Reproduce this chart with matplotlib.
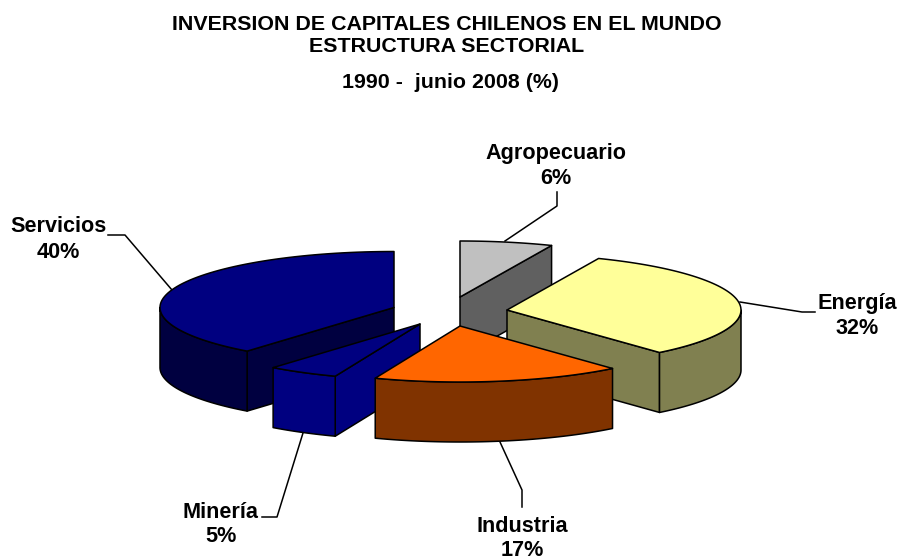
import numpy as np
import matplotlib
matplotlib.use('Agg')
import matplotlib.pyplot as plt
from matplotlib.patches import Polygon

# Sector shares
sectors = ['Agropecuario', 'Energía', 'Industria', 'Minería', 'Servicios']
shares = [6.4, 32.3, 17.2, 4.9, 39.2]
share_labels = ['6%', '32%', '17%', '5%', '40%']

title_lines = ['INVERSION DE CAPITALES CHILENOS EN EL MUNDO', 'ESTRUCTURA SECTORIAL', '1990 -  junio 2008 (%)']

# Slice styling and the exploded position of each slice tip (pixels)
top_colors = ['#C0C0C0', '#FFFF99', '#FF6600', '#000080', '#000080']
side_colors = ['#606060', '#808050', '#803300', '#000080', '#000040']
tip_x = [460, 507, 460, 420, 394]
tip_y = [297, 310, 326, 324, 307.5]
RX = 234
RY = 56
DEPTH = 60

# Label centres and leader lines (pixels)
label_x = [556, 857, 522, 221, 58]
label_y = [154, 303, 526, 512, 227]
leaders = [
    [(505, 241), (557, 206), (557, 192)],
    [(740, 302), (802, 312), (815, 312)],
    [(500, 442), (522, 490), (522, 507)],
    [(303, 433), (277, 517), (262, 517)],
    [(172, 290), (125, 235), (108, 235)],
]

plt.rcParams['font.family'] = ['Liberation Sans', 'DejaVu Sans']

fig = plt.figure(figsize=(8.98, 5.58), dpi=100)
ax = fig.add_axes([0, 0, 1, 1])
ax.set_xlim(0, 898)
ax.set_ylim(558, 0)
ax.axis('off')

# Angles run clockwise from 12 o'clock
edges = np.concatenate([[0], np.cumsum(shares)]) / sum(shares) * 2 * np.pi


def rim(i, a):
    return tip_x[i] + RX * np.sin(a), tip_y[i] - RY * np.cos(a)


def arc(i, a0, a1):
    t = np.linspace(a0, a1, 80)
    return np.column_stack(rim(i, t))


def poly(pts, color, z):
    ax.add_patch(Polygon(pts, closed=True, facecolor=color, edgecolor='black', linewidth=1.1, joinstyle='round', zorder=z))


def outer_wall(i, a0, a1, z):
    upper = arc(i, a0, a1)
    lower = upper[::-1] + [0, DEPTH]
    poly(np.vstack([upper, lower]), side_colors[i], z)


def cut_face(i, a, z):
    x, y = rim(i, a)
    tx, ty = tip_x[i], tip_y[i]
    poly([(tx, ty), (x, y), (x, y + DEPTH), (tx, ty + DEPTH)], side_colors[i], z)


def top(i, z):
    pts = np.vstack([[(tip_x[i], tip_y[i])], arc(i, edges[i], edges[i + 1])])
    poly(pts, top_colors[i], z)


# Back to front: Agropecuario, Servicios, Energia, Mineria, Industria
cut_face(0, edges[1], 1)
top(0, 2)

cut_face(4, edges[4], 3)
outer_wall(4, edges[4], 1.5 * np.pi, 4)
top(4, 5)

cut_face(1, edges[2], 6)
outer_wall(1, np.pi / 2, edges[2], 7)
top(1, 8)

cut_face(3, edges[3], 9)
outer_wall(3, edges[3], edges[4], 10)
top(3, 11)

outer_wall(2, edges[2], edges[3], 12)
top(2, 13)

# Leader lines and labels
for line in leaders:
    xs, ys = zip(*line)
    ax.plot(xs, ys, color='black', linewidth=1.1, zorder=0)

for name, pct, x, y in zip(sectors, share_labels, label_x, label_y):
    ax.text(x, y, name, ha='center', va='center', fontsize=15.6, fontweight='bold')
    ax.text(x, y + 25, pct, ha='center', va='center', fontsize=15.6, fontweight='bold')

ax.text(446.5, 24, title_lines[0], ha='center', va='center', fontsize=15.4, fontweight='bold')
ax.text(446.5, 47, title_lines[1], ha='center', va='center', fontsize=15.4, fontweight='bold')
ax.text(451, 82, title_lines[2], ha='center', va='center', fontsize=15.4, fontweight='bold')

fig.savefig('out.png', dpi=100)
